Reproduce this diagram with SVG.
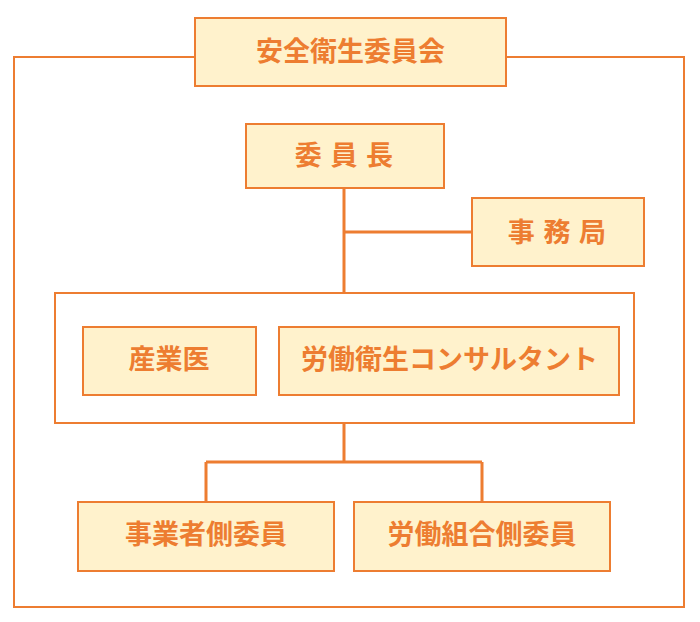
<svg xmlns="http://www.w3.org/2000/svg" width="700" height="622" viewBox="0 0 700 622">
<style>
.frame{fill:none;stroke:#ED7D31;stroke-width:2}
.box{fill:#FFF2CC;stroke:#ED7D31;stroke-width:2}
.grp{fill:#FFFFFF;stroke:#ED7D31;stroke-width:2}
.conn{fill:none;stroke:#ED7D31;stroke-width:3}
.lbl{font-family:"Noto Sans CJK JP","Noto Sans CJK SC",sans-serif;font-weight:700;font-size:27px;fill:#ED7D31;text-anchor:middle;dominant-baseline:central}
.sp{word-spacing:2.5px}
</style>
<rect width="700" height="622" fill="#FFFFFF"/>
<g id="outer-frame"><rect class="frame" x="14" y="57" width="670" height="550"/></g>
<g id="committee"><rect class="box" x="195" y="18" width="311" height="68"/><text class="lbl" x="350.5" y="49">安全衛生委員会</text></g>
<g id="connectors">
<path class="conn" d="M344 188 V293"/>
<path class="conn" d="M344 232 H472"/>
<path class="conn" d="M344 423 V462 M206 462 H482 M206 462 V502 M482 462 V502"/>
</g>
<g id="chair"><rect class="box" x="246" y="124" width="198" height="64"/><text class="lbl sp" x="344" y="153.5">委 員 長</text></g>
<g id="secretariat"><rect class="box" x="472" y="198" width="172" height="68"/><text class="lbl sp" x="557" y="230">事 務 局</text></g>
<g id="advisors"><rect class="grp" x="55" y="293" width="579" height="130"/></g>
<g id="doctor"><rect class="box" x="83" y="327" width="173" height="68"/><text class="lbl" x="169" y="357.5">産業医</text></g>
<g id="consultant"><rect class="box" x="279" y="327" width="340" height="68"/><text class="lbl" x="449.5" y="357.5">労働衛生コンサルタント</text></g>
<g id="employer"><rect class="box" x="78" y="502" width="256" height="69"/><text class="lbl" x="206" y="532">事業者側委員</text></g>
<g id="union"><rect class="box" x="354" y="502" width="256" height="69"/><text class="lbl" x="482" y="532">労働組合側委員</text></g>
</svg>
